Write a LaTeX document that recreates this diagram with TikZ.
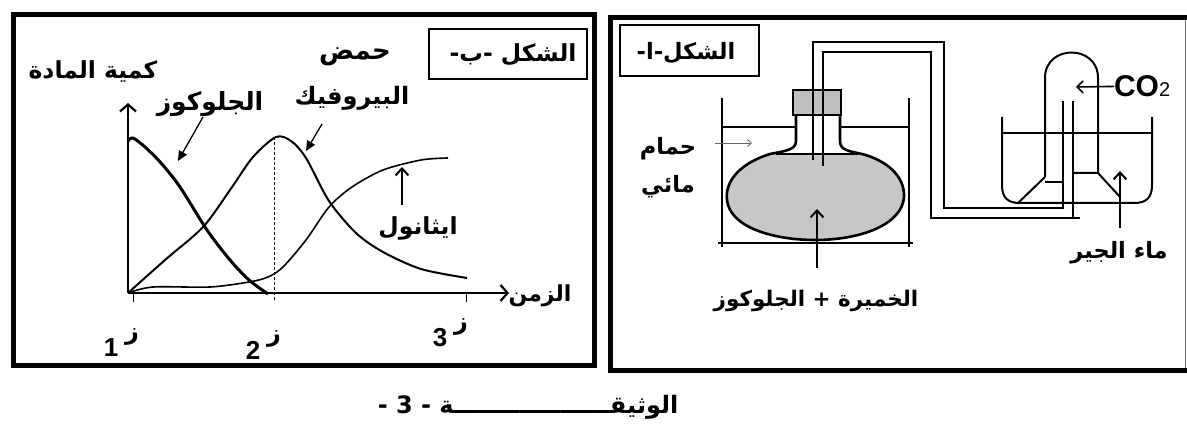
\documentclass[tikz,border=0pt]{standalone}
\usepackage{fontspec}
\usetikzlibrary{arrows.meta}
\TeXXeTstate=1
\setmainfont{Liberation Sans}
\newfontfamily\arabicfont[Script=Arabic]{DejaVu Sans}
\def\rl#1{\beginR #1\endR}
\def\timelabel(#1,#2)#3{%
  \node[artext=24] (zay#3) at (#1,#2+4) {\rl{ز}};
  \node[digit] (num#3) at (#1-21,#2+15) {#3};}

\begin{document}
\begin{tikzpicture}[x=1pt,y=-1pt,
    every node/.style={inner sep=0pt, outer sep=0pt},
    artext/.style={font=\arabicfont\bfseries\fontsize{#1}{#1}\selectfont},
    digit/.style={font=\bfseries\fontsize{26}{26}\selectfont},
    panel/.style={line width=5pt},
    tagbox/.style={line width=1.8pt},
    axisline/.style={line width=2.2pt, -{Straight Barb[length=7pt,width=16pt]}},
    pointer/.style={line width=1.3pt, -{Triangle[length=10pt,width=9pt]}},
    barbarrow/.style={line width=2pt, -{Straight Barb[length=7pt,width=13pt]}},
    wall/.style={line width=2pt},
    pipe/.style={line width=1.8pt},
    liquid/.style={fill=black!22}]
    \useasboundingbox (0,0) rectangle (1187,435);
    %%%%% FRAMES %%%%%
    \draw[line width=0.5pt, double distance=1.6pt] (3,435) -- (3,5) -- (1187,5);
    \draw[panel] (13,15) rectangle (594,366);
    \draw[panel] (610,17.5) rectangle (1192,371);
    \draw[line width=0.8pt, black!60] (1185,20) -- (1185,368);

    %%%%% FIGURE B : amounts against time %%%%%
    \draw[tagbox] (429,29) rectangle (587,79);
    \node[artext=23.5] (tagB) at (513,55) {\rl{الشكل -ب-}};

    \coordinate (O) at (128,293);
    \coordinate (yTop) at (128,103);
    \coordinate (xEnd) at (509,293);
    \draw[axisline] (O) -- (yTop);
    \draw[axisline] (O) -- (xEnd);
    \node[artext=23.5] (yLab) at (93,72) {\rl{كمية المادة}};
    \node[artext=22] (xLab) at (540,296) {\rl{الزمن}};

    % ticks under the time axis
    \draw[line width=1pt] (133,293) -- (133,302);
    \draw[line width=1pt] (466,293) -- (466,302);
    \draw[line width=1pt, densely dashed] (274,137) -- (274,302);

    % glucose
    \draw[line width=3pt, line join=round]
      plot[smooth] coordinates {(128,141) (133,138) (145,147) (161,163) (180,187)
        (207,230) (230,260) (249,280) (268,294)};
    % pyruvic acid
    \draw[line width=2pt]
      plot[smooth] coordinates {(128,293) (165,260) (203,227) (230,190) (253,157)
        (276,137) (291,141) (306,158) (329,201) (356,233) (383,252) (421,269) (467,278)};
    % ethanol
    \draw[line width=1.6pt]
      plot[smooth] coordinates {(128,293) (153,287) (210,287) (249,282) (268,277)
        (283,267) (306,240) (329,207) (352,187) (383,170) (421,160) (448,158)};

    \node[artext=25] (gluLab) at (210,104) {\rl{الجلوكوز}};
    \coordinate (gluFrom) at (203,117);
    \coordinate (gluTip) at (178,161);
    \draw[pointer] (gluFrom) -- (gluTip);

    \node[artext=26] (acidLab) at (355,57) {\rl{حمض}};
    \node[artext=24] (pyrLab) at (352,98) {\rl{البيروفيك}};
    \coordinate (pyrFrom) at (322,124);
    \coordinate (pyrTip) at (306,151);
    \draw[pointer] (pyrFrom) -- (pyrTip);

    \node[artext=23.5] (ethLab) at (418,228) {\rl{ايثانول}};
    \coordinate (ethFrom) at (402,205);
    \coordinate (ethTip) at (402,167);
    \draw[barbarrow] (ethFrom) -- (ethTip);

    \timelabel(132,333){1}
    \timelabel(274,335){2}
    \timelabel(461,323){3}

    %%%%% FIGURE A : fermentation set-up %%%%%
    \draw[tagbox] (620,25) rectangle (759,76);
    \node[artext=22.5] (tagA) at (686,53) {\rl{الشكل-ا-}};

    % water bath
    \draw[wall] (722,98) -- (722,247);
    \draw[wall] (909,98) -- (909,247);
    \draw[wall] (718,243) -- (913,243);
    \draw[wall] (722,127) -- (796,127);
    \draw[wall] (840,127) -- (909,127);
    \node[artext=22.5] (bathLab1) at (668,149) {\rl{حمام}};
    \node[artext=22.5] (bathLab2) at (668,187) {\rl{مائي}};
    \coordinate (bathFrom) at (715,143);
    \coordinate (bathTip) at (752,143);
    \draw[line width=0.8pt, black!60, -{Straight Barb[length=4pt,width=7pt]}] (bathFrom) -- (bathTip);

    % flask with yeast and glucose
    \fill[liquid] (770,154) .. controls (735,165) and (725,185) .. (727,200)
      .. controls (730,228) and (775,240) .. (815,240)
      .. controls (860,240) and (902,225) .. (904,197)
      .. controls (905,175) and (885,160) .. (862,154) -- cycle;
    \draw[line width=2.6pt, line join=round] (796,115) -- (796,141)
      .. controls (796,150) and (785,151) .. (770,154)
      .. controls (735,165) and (725,185) .. (727,200)
      .. controls (730,228) and (775,240) .. (815,240)
      .. controls (860,240) and (902,225) .. (904,197)
      .. controls (905,175) and (885,160) .. (862,154)
      .. controls (848,151) and (840,150) .. (840,141) -- (840,115);
    \draw[line width=2.4pt] (776,154) -- (858,154);
    \draw[wall, fill=black!25] (793,90) rectangle (841,115);

    % delivery tube
    \draw[pipe] (813,160) -- (813,42) -- (944,42) -- (944,208) -- (1063,208) -- (1063,101);
    \draw[pipe] (823,166) -- (823,52) -- (931,52) -- (931,218) -- (1080,218);
    \draw[pipe] (1073,218) -- (1073,101);

    \coordinate (yeastFrom) at (817,268);
    \coordinate (yeastTip) at (817,209);
    \draw[barbarrow] (yeastFrom) -- (yeastTip);
    \node[artext=21.5] (yeastLab) at (816,301) {\rl{الخميرة + الجلوكوز}};

    % beaker of limewater
    \draw[wall] (1002,117) -- (1002,185) .. controls (1002,198) and (1008,203) .. (1020,203)
      -- (1134,203) .. controls (1146,203) and (1152,198) .. (1152,185) -- (1152,117);
    \draw[wall] (1002,133) -- (1152,133);

    % inverted test tube
    \draw[wall] (1045,177) -- (1045,78) .. controls (1045,44) and (1098,44) .. (1098,78) -- (1098,173);
    \draw[wall] (1045,177) -- (1018,203);
    \draw[wall] (1045,182) -- (1063,182);
    \draw[wall] (1073,173) -- (1098,173) -- (1120,197);

    \node[font=\bfseries\fontsize{30}{30}\selectfont, anchor=west] (co2) at (1114,86)
      {CO\raisebox{-0.03em}{\fontsize{20}{20}\selectfont\mdseries 2}};
    \coordinate (co2Tip) at (1076,87);
    \draw[line width=1.6pt, -{Straight Barb[length=6pt,width=12pt]}] (co2) -- (co2Tip);

    \node[artext=22.5] (limeLab) at (1119,253) {\rl{ماء الجير}};
    \coordinate (limeFrom) at (1120,228);
    \coordinate (limeTip) at (1120,171);
    \draw[barbarrow] (limeFrom) -- (limeTip);

    %%%%% CAPTION %%%%%
    \node[artext=24] (caption) at (528,407) {\rl{الوثيقـــــــــــــــــــة - 3 -}};
\end{tikzpicture}
\end{document}
